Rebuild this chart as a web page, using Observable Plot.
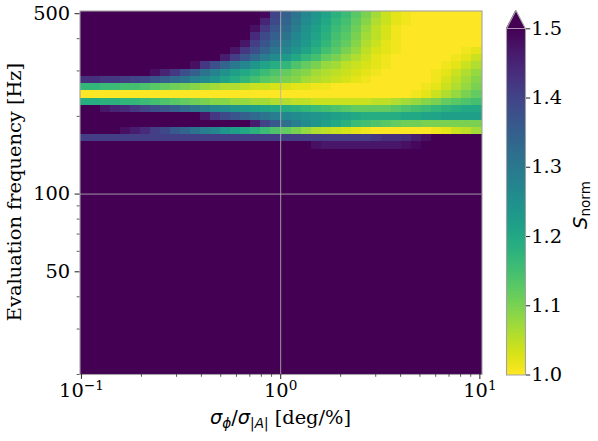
<!DOCTYPE html>
<html><head><meta charset="utf-8">
<script src="https://cdn.jsdelivr.net/npm/d3@7"></script>
<script src="https://cdn.jsdelivr.net/npm/@observablehq/plot@0.6"></script>
<style>
html,body{margin:0;padding:0;background:#fff;}
#chart{position:relative;width:598px;height:441px;overflow:hidden;}
#chart svg{position:absolute;left:0;top:0;}
</style></head><body><div id="chart"></div>
<script>
// ---- grid extent (cell edges) ----
const ratioRange = [0.0983, 10.25];   // sigma_phi / sigma_|A|  [deg/%], log-spaced columns
const freqRange = [20, 512];          // evaluation frequency [Hz], log-spaced rows
const nCols = 40, nRows = 50;
const SAT = 1.6;                      // above colour-bar maximum (shown dark purple)

// ---- S_norm values, read row by row from the top (highest frequency) ----
const row00 = [SAT,SAT,SAT,SAT,SAT,SAT,SAT,SAT,SAT,SAT,SAT,SAT,SAT,SAT,SAT,SAT,SAT,SAT,1.49,1.40,1.35,1.31,1.27,1.24,1.21,1.18,1.16,1.13,1.10,1.07,1.04,1.02,1.01,1.00,1.00,1.00,1.00,1.00,1.00,1.00];
const row01 = [SAT,SAT,SAT,SAT,SAT,SAT,SAT,SAT,SAT,SAT,SAT,SAT,SAT,SAT,SAT,SAT,SAT,SAT,1.45,1.39,1.34,1.30,1.26,1.23,1.20,1.17,1.15,1.12,1.09,1.06,1.04,1.02,1.01,1.00,1.00,1.00,1.00,1.00,1.00,1.00];
const row02 = [SAT,SAT,SAT,SAT,SAT,SAT,SAT,SAT,SAT,SAT,SAT,SAT,SAT,SAT,SAT,SAT,SAT,1.48,1.42,1.37,1.33,1.29,1.25,1.22,1.19,1.16,1.14,1.11,1.08,1.05,1.03,1.01,1.00,1.00,1.00,1.00,1.00,1.00,1.00,1.00];
const row03 = [SAT,SAT,SAT,SAT,SAT,SAT,SAT,SAT,SAT,SAT,SAT,SAT,SAT,SAT,SAT,SAT,SAT,1.44,1.39,1.35,1.31,1.27,1.24,1.21,1.18,1.15,1.13,1.10,1.07,1.05,1.03,1.01,1.00,1.00,1.00,1.00,1.00,1.00,1.00,1.00];
const row04 = [SAT,SAT,SAT,SAT,SAT,SAT,SAT,SAT,SAT,SAT,SAT,SAT,SAT,SAT,SAT,SAT,1.47,1.41,1.37,1.33,1.29,1.26,1.23,1.20,1.17,1.14,1.12,1.09,1.06,1.04,1.02,1.01,1.00,1.00,1.00,1.00,1.00,1.00,1.00,1.00];
const row05 = [SAT,SAT,SAT,SAT,SAT,SAT,SAT,SAT,SAT,SAT,SAT,SAT,SAT,SAT,SAT,1.47,1.42,1.38,1.34,1.30,1.27,1.24,1.21,1.18,1.15,1.13,1.10,1.08,1.05,1.03,1.02,1.01,1.00,1.00,1.00,1.00,1.00,1.00,1.01,1.02];
const row06 = [SAT,SAT,SAT,SAT,SAT,SAT,SAT,SAT,SAT,SAT,SAT,SAT,SAT,SAT,1.46,1.41,1.37,1.33,1.29,1.26,1.23,1.20,1.17,1.15,1.12,1.10,1.08,1.06,1.04,1.02,1.01,1.00,1.00,1.00,1.00,1.00,1.00,1.01,1.02,1.04];
const row07 = [SAT,SAT,SAT,SAT,SAT,SAT,SAT,SAT,SAT,SAT,SAT,1.48,1.42,1.38,1.34,1.30,1.27,1.24,1.21,1.19,1.17,1.14,1.12,1.10,1.08,1.07,1.05,1.04,1.03,1.02,1.01,1.00,1.00,1.00,1.00,1.00,1.01,1.02,1.04,1.06];
const row08 = [SAT,SAT,SAT,SAT,SAT,SAT,SAT,1.48,1.45,1.42,1.38,1.35,1.31,1.28,1.25,1.22,1.20,1.18,1.16,1.14,1.12,1.10,1.09,1.07,1.06,1.05,1.04,1.03,1.02,1.01,1.00,1.00,1.00,1.00,1.00,1.01,1.02,1.04,1.06,1.08];
const row09 = [1.43,1.43,1.42,1.42,1.41,1.40,1.39,1.37,1.35,1.33,1.31,1.28,1.26,1.24,1.21,1.19,1.17,1.15,1.13,1.12,1.10,1.09,1.07,1.06,1.05,1.04,1.03,1.02,1.01,1.00,1.00,1.00,1.00,1.00,1.00,1.01,1.03,1.05,1.07,1.09];
const row10 = [1.17,1.17,1.16,1.16,1.15,1.15,1.14,1.13,1.12,1.11,1.10,1.09,1.08,1.07,1.06,1.06,1.05,1.04,1.04,1.03,1.03,1.02,1.02,1.01,1.01,1.00,1.00,1.00,1.00,1.00,1.00,1.00,1.00,1.00,1.01,1.02,1.04,1.06,1.08,1.10];
const row11 = [1.00,1.00,1.00,1.00,1.00,1.00,1.00,1.00,1.00,1.00,1.00,1.00,1.00,1.00,1.00,1.00,1.00,1.00,1.00,1.00,1.00,1.00,1.00,1.00,1.00,1.00,1.00,1.00,1.00,1.00,1.00,1.00,1.00,1.01,1.02,1.04,1.06,1.08,1.10,1.12];
const row12 = [1.19,1.19,1.18,1.18,1.17,1.17,1.16,1.15,1.14,1.13,1.12,1.11,1.10,1.09,1.09,1.08,1.08,1.07,1.07,1.06,1.06,1.05,1.05,1.04,1.04,1.04,1.04,1.04,1.04,1.05,1.05,1.06,1.07,1.08,1.09,1.10,1.12,1.13,1.14,1.15];
const row13 = [SAT,SAT,1.47,1.45,1.44,1.42,1.40,1.38,1.37,1.35,1.33,1.31,1.29,1.27,1.26,1.24,1.23,1.22,1.21,1.20,1.19,1.18,1.17,1.16,1.15,1.14,1.13,1.12,1.12,1.12,1.12,1.13,1.14,1.15,1.16,1.17,1.18,1.19,1.20,1.20];
const row14 = [SAT,SAT,SAT,SAT,SAT,SAT,SAT,SAT,SAT,SAT,SAT,SAT,1.47,1.42,1.39,1.37,1.35,1.33,1.31,1.29,1.27,1.26,1.25,1.24,1.23,1.22,1.21,1.20,1.19,1.19,1.19,1.19,1.20,1.20,1.21,1.21,1.22,1.22,1.22,1.22];
const row15 = [SAT,SAT,SAT,SAT,SAT,SAT,SAT,SAT,SAT,SAT,SAT,SAT,SAT,SAT,SAT,SAT,SAT,1.46,1.40,1.36,1.32,1.29,1.26,1.24,1.22,1.20,1.18,1.16,1.15,1.14,1.13,1.12,1.11,1.11,1.10,1.10,1.10,1.10,1.10,1.10];
const row16 = [SAT,SAT,SAT,SAT,1.48,1.46,1.44,1.41,1.39,1.36,1.34,1.31,1.29,1.27,1.24,1.22,1.20,1.18,1.16,1.14,1.12,1.10,1.08,1.06,1.05,1.04,1.03,1.02,1.01,1.00,1.00,1.00,1.00,1.00,1.00,1.01,1.02,1.04,1.05,1.07];
const row17 = [1.41,1.41,1.41,1.41,1.41,1.41,1.41,1.41,1.41,1.41,1.41,1.41,1.41,1.41,1.41,1.41,1.41,1.41,1.41,1.41,1.41,1.41,1.41,1.41,1.41,1.41,1.41,1.41,1.41,1.42,1.43,1.43,1.44,1.46,1.48,SAT,SAT,SAT,SAT,SAT];
const row18 = [SAT,SAT,SAT,SAT,SAT,SAT,SAT,SAT,SAT,SAT,SAT,SAT,SAT,SAT,SAT,SAT,SAT,SAT,SAT,SAT,SAT,SAT,SAT,1.48,1.47,1.47,1.47,1.47,1.47,1.47,1.47,1.47,1.48,1.49,SAT,SAT,SAT,SAT,SAT,SAT];
const readRows = [row00,row01,row02,row03,row04,row05,row06,row07,row08,row09,row10,row11,row12,row13,row14,row15,row16,row17,row18];
// rows below (lower frequencies) are all above 1.5 (saturated)

// ---- ticks ----
const xMajor = [0.1, 1, 10];
const xMajorLabels = ["10^−1", "10^0", "10^1"];
const xMinor = [0.2,0.3,0.4,0.5,0.6,0.7,0.8,0.9,2,3,4,5,6,7,8,9];
const yMajor = [50, 100, 500];
const yMinor = [20,30,40,60,70,80,90,200,300,400];
const cbTicks = [1.0, 1.1, 1.2, 1.3, 1.4, 1.5];
const cbRange = [1.0, 1.5];

// cell edges (log-spaced grid) and cell table
const xr = ratioRange[1] / ratioRange[0], yr = freqRange[1] / freqRange[0];
const xEdge = j => ratioRange[0] * Math.pow(xr, j / nCols);
const yEdge = k => freqRange[1] / Math.pow(yr, k / nRows);   // k = 0 at the top
const cells = [];
for (let r = 0; r < nRows; r++) {
  const row = readRows[r] || new Array(nCols).fill(SAT);
  row.forEach((v, c) => cells.push({x1: xEdge(c), x2: xEdge(c + 1), y1: yEdge(r + 1), y2: yEdge(r), v}));
}

const colorOpts = {type: "linear", scheme: "viridis", reverse: true, domain: cbRange, clamp: true};
const serif = "'DejaVu Serif', serif";
const sans = "'DejaVu Sans', sans-serif";
const FS = 19.4;
const tickCol = "#333";
const frameCol = "#a3a3a3";

const main = Plot.plot({
  width: 598, height: 441,
  marginLeft: 79.5, marginRight: 116.5, marginTop: 10.5, marginBottom: 67,
  style: {fontFamily: serif, fontSize: FS + "px", color: "#000", background: "transparent", overflow: "visible"},
  x: {type: "log", domain: ratioRange, axis: null},
  y: {type: "log", domain: freqRange, axis: null},
  color: colorOpts,
  marks: [
    Plot.rect(cells, {x1: "x1", x2: "x2", y1: "y1", y2: "y2", fill: "v", shapeRendering: "crispEdges"}),
    Plot.gridX([1], {stroke: "#b0b0b0", strokeOpacity: 0.85, strokeWidth: 1}),
    Plot.gridY([100], {stroke: "#b0b0b0", strokeOpacity: 0.85, strokeWidth: 1}),
    Plot.frame({stroke: frameCol, strokeWidth: 1.1}),
    Plot.axisX({ticks: xMajor, tickSize: 4.9, tickPadding: 4.3, label: null, stroke: tickCol, strokeWidth: 1.1,
      tickFormat: d => xMajorLabels[xMajor.indexOf(d)], fontSize: FS, fontFamily: serif}),
    Plot.axisX({ticks: xMinor, tickSize: 2.8, label: null, stroke: tickCol, strokeWidth: 0.8, tickFormat: () => ""}),
    Plot.axisY({ticks: yMajor, tickSize: 4.9, tickPadding: 4.9, label: null, stroke: tickCol, strokeWidth: 1.1,
      tickFormat: d => String(d), fontSize: FS, fontFamily: serif}),
    Plot.axisY({ticks: yMinor, tickSize: 2.8, label: null, stroke: tickCol, strokeWidth: 0.8, tickFormat: () => ""})
  ]
});

// colour bar
const arrowTip = 1.5264;
const outline = [{x:0,y:1.0},{x:0,y:1.5},{x:0.5,y:arrowTip},{x:1,y:1.5},{x:1,y:1.0},{x:0,y:1.0}];
const cbar = Plot.plot({
  width: 598, height: 441,
  marginLeft: 506, marginRight: 73, marginTop: 10, marginBottom: 66.5,
  style: {fontFamily: serif, fontSize: FS + "px", color: "#000", background: "transparent", overflow: "visible"},
  x: {domain: [0, 1], axis: null},
  y: {domain: [1.0, arrowTip], axis: null},
  color: colorOpts,
  marks: [
    Plot.raster({x1: 0, x2: 1, y1: 1.5, y2: 1.0, width: 1, height: 256, fill: (x, y) => y, imageRendering: "pixelated"}),
    Plot.areaY([{x:0,t:1.5},{x:0.5,t:arrowTip},{x:1,t:1.5}], {x: "x", y1: 1.5, y2: "t", fill: "#440154"}),
    Plot.line(outline, {x: "x", y: "y", stroke: frameCol, strokeWidth: 1.1}),
    Plot.axisY({anchor: "right", ticks: cbTicks, tickSize: 4.2, tickPadding: 1.5, label: null, stroke: tickCol, strokeWidth: 1.1,
      tickFormat: d3.format(".1f"), fontSize: FS, fontFamily: serif})
  ]
});

const host = document.getElementById("chart");
host.appendChild(main);
host.appendChild(cbar);

// superscript exponents on x tick labels
d3.select(main).selectAll("text").each(function () {
  const m = /^10\^(.+)$/.exec(this.textContent);
  if (!m) return;
  const s = d3.select(this);
  s.text("10");
  s.append("tspan").attr("dy", "-7px").attr("font-size", (FS * 0.7) + "px").text(m[1]);
});

// x label: σ_ϕ/σ_|A| [deg/%]
const xl = d3.select(main).append("text")
  .attr("x", 280.5).attr("y", 424).attr("text-anchor", "middle")
  .attr("font-size", FS).attr("fill", "#000").attr("font-family", sans);
xl.append("tspan").attr("font-style", "italic").text("σ");
xl.append("tspan").attr("font-style", "italic").attr("font-size", FS * 0.7).attr("dy", 3.5).text("ϕ");
xl.append("tspan").attr("dy", -3.5).text("/");
xl.append("tspan").attr("font-style", "italic").text("σ");
const sub = xl.append("tspan").attr("font-size", FS * 0.7).attr("dy", 3.5);
sub.append("tspan").text("|");
sub.append("tspan").attr("font-style", "italic").text("A");
sub.append("tspan").text("|");
xl.append("tspan").attr("dy", -3.5).attr("font-family", serif).text(" [deg/%]");

// y label
d3.select(main).append("text")
  .attr("transform", "translate(21,192) rotate(-90)")
  .attr("text-anchor", "middle").attr("font-size", FS).attr("font-family", serif).attr("fill", "#000")
  .text("Evaluation frequency [Hz]");

// colour bar label S_norm
const cl = d3.select(cbar).append("text")
  .attr("transform", "translate(587,205) rotate(-90)")
  .attr("text-anchor", "middle").attr("font-size", FS).attr("font-family", sans).attr("fill", "#000");
cl.append("tspan").attr("font-style", "italic").text("S");
cl.append("tspan").attr("font-size", FS * 0.7).attr("dy", 3).text("norm");
</script></body></html>
